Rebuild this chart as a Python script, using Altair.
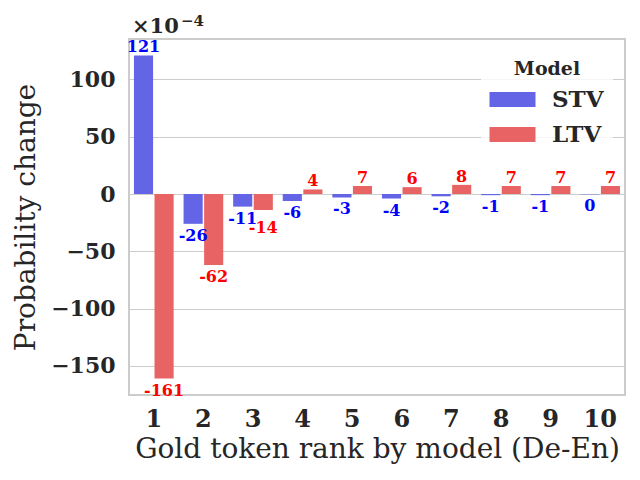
import altair as alt
import pandas as pd

ranks = [str(i) for i in range(1, 11)]
models = ["STV", "LTV"]
stv_values = [121, -26, -11, -6, -3, -4, -2, -1, -1, -0.3]
ltv_values = [-161, -62, -14, 4, 7, 6, 8, 7, 7, 7]
bar_colors = ["#6464E6", "#E86464"]
text_colors = ["blue", "red"]
y_ticks = [-150, -100, -50, 0, 50, 100]
scale_base = ["×10"]
scale_exp = ["−4"]

rows = []
for m, vals, tc in zip(models, [stv_values, ltv_values], text_colors):
    for r, v in zip(ranks, vals):
        rows.append({"rank": r, "model": m, "value": v,
                     "label": str(int(round(v))) if round(v) != 0 else "0",
                     "tcolor": tc})
df = pd.DataFrame(rows)

FONT = "DejaVu Serif"
TXT = "#262626"

x_enc = alt.X("rank:N", sort=ranks,
              scale=alt.Scale(paddingInner=0.2, paddingOuter=0.1),
              axis=alt.Axis(title="Gold token rank by model (De-En)", labelAngle=0,
                            labelFont=FONT, labelFontSize=24, labelFontWeight="bold",
                            labelColor=TXT, labelPadding=12, ticks=False, domain=False,
                            grid=False, titleFont=FONT, titleFontSize=28,
                            titleFontWeight="normal", titleColor=TXT, titlePadding=4))
xo_enc = alt.XOffset("model:N", sort=models,
                     scale=alt.Scale(paddingInner=0.07, paddingOuter=0))
y_enc = alt.Y("value:Q",
              scale=alt.Scale(domain=[-175.4, 135.3], nice=False, zero=False),
              axis=alt.Axis(title="Probability change", values=y_ticks,
                            labelFont=FONT, labelFontSize=22, labelFontWeight="bold",
                            labelColor=TXT, labelPadding=14, ticks=False, domain=False,
                            grid=True, gridColor="#cccccc", gridWidth=1,
                            titleFont=FONT, titleFontSize=28, titleFontWeight="normal",
                            titleColor=TXT, titlePadding=10))

base = alt.Chart(df).encode(x=x_enc, xOffset=xo_enc, y=y_enc)

bars = base.mark_bar().encode(
    color=alt.Color("model:N", sort=models,
                    scale=alt.Scale(domain=models, range=bar_colors),
                    legend=alt.Legend(title="Model", orient="none", legendX=352, legendY=12,
                                      titleFont=FONT, titleFontSize=19, titleFontWeight="bold",
                                      titleColor=TXT, titleAnchor="middle", titlePadding=9,
                                      labelFont=FONT, labelFontSize=23, labelFontWeight="bold",
                                      labelColor=TXT, labelOffset=28,
                                      symbolType="M-2,-0.65H2V0.65H-2Z", symbolSize=529,
                                      symbolOffset=11, symbolStrokeWidth=0,
                                      rowPadding=11, padding=9,
                                      fillColor="rgba(255,255,255,0.8)"))
)

nudged = "datum.rank == '3' && datum.model == 'LTV'"

pos_text = base.transform_filter("datum.value >= 0").mark_text(
    baseline="alphabetic", dy=-3, font=FONT, fontSize=16, fontWeight="bold"
).encode(text="label:N", color=alt.Color("tcolor:N", scale=None))

neg_text = base.transform_filter(f"datum.value < 0 && !({nudged})").mark_text(
    baseline="top", dy=4, font=FONT, fontSize=16, fontWeight="bold"
).encode(text="label:N", color=alt.Color("tcolor:N", scale=None))

neg_text_nudged = base.transform_filter(f"datum.value < 0 && ({nudged})").mark_text(
    baseline="top", dy=10, font=FONT, fontSize=16, fontWeight="bold"
).encode(text="label:N", color=alt.Color("tcolor:N", scale=None))

note_base = alt.Chart(pd.DataFrame({"t": scale_base})).mark_text(
    align="left", baseline="alphabetic", font=FONT, fontSize=21, fontWeight="bold",
    color=TXT
).encode(x=alt.value(3), y=alt.value(-6), text="t:N")

note_exp = alt.Chart(pd.DataFrame({"t": scale_exp})).mark_text(
    align="left", baseline="alphabetic", font=FONT, fontSize=15, fontWeight="bold",
    color=TXT
).encode(x=alt.value(52), y=alt.value(-13), text="t:N")

chart = alt.layer(bars, pos_text, neg_text, neg_text_nudged, note_base, note_exp).properties(
    width=496, height=356,
    autosize=alt.AutoSizeParams(type="none"),
    padding={"left": 121, "top": 31, "right": 7, "bottom": 77},
).configure_view(stroke="#cccccc", strokeWidth=2)

chart.save("out.html", embed_options={"renderer": "svg", "actions": False})
